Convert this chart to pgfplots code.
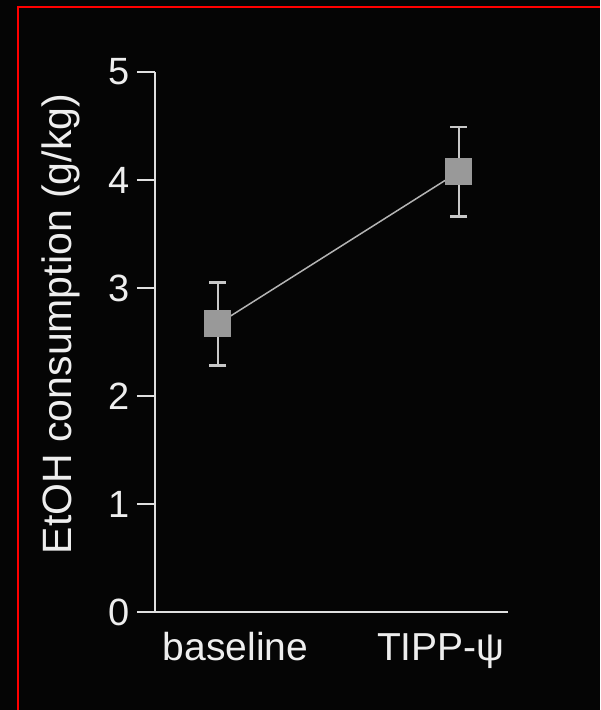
\documentclass[border=0pt]{standalone}
\usepackage{fontspec}
\setmainfont{Liberation Sans}
\usepackage{pgfplots}
\pgfplotsset{compat=1.18}
\definecolor{bg}{HTML}{050505}
\definecolor{axc}{HTML}{E0E0E0}
\definecolor{txt}{HTML}{EEEEEE}
\definecolor{mk}{HTML}{999999}
\definecolor{errc}{HTML}{C8C8C8}
\definecolor{lnc}{HTML}{B4B4B4}
\definecolor{brd}{HTML}{FF0000}
\begin{document}
\begin{tikzpicture}
\path[use as bounding box, fill=bg] (-77.5pt,-49pt) rectangle (222.5pt,306pt);
\draw[brd, line width=1pt] (-68.25pt,-49pt) -- (-68.25pt,302.25pt) -- (222.5pt,302.25pt);
\begin{axis}[
  at={(0,0)}, anchor=south west,
  scale only axis, width=176.5pt, height=270pt,
  xmin=-0.2614, xmax=1.2037, ymin=0, ymax=5,
  axis x line*=bottom, axis y line*=left,
  axis line style={draw=axc, line width=1pt},
  ytick={0,1,2,3,4,5},
  xtick={0.073,0.925}, xticklabels={baseline, TIPP-ψ},
  x tick style={draw=none},
  y tick style={draw=axc, line width=1pt},
  tick align=outside, major tick length=9pt,
  ticklabel style={text=txt, inner sep=0pt},
  yticklabel style={font=\fontsize{19}{19}\selectfont, anchor=east, xshift=-3.5pt},
  xticklabel style={font=\fontsize{19.5}{19.5}\selectfont, anchor=base, yshift=-15pt},
  /pgf/number format/assume math mode=true,
  ylabel={EtOH consumption (g/kg)},
  every axis y label/.style={at={(rel axis cs:0,0.5333)}, xshift=-41.5pt, rotate=90, anchor=base, font=\fontsize{20.5}{20.5}\selectfont, text=txt, inner sep=0pt},
  clip=false,
]
\addplot[draw=none, forget plot,
  error bars/.cd, y dir=both, y explicit,
  error bar style={draw=errc, line width=1.4pt},
  error mark options={rotate=90, mark size=4.25pt, line width=1.4pt, draw=errc}]
  coordinates {(0,2.667) +- (0,0.383) (1,4.077) +- (0,0.414)};
\addplot[draw=lnc, line width=0.75pt, mark=square*, mark size=6.5pt,
  mark options={fill=mk, draw=mk, line width=0.5pt}]
  coordinates {(0,2.667) (1,4.077)};
\end{axis}
\end{tikzpicture}
\end{document}
